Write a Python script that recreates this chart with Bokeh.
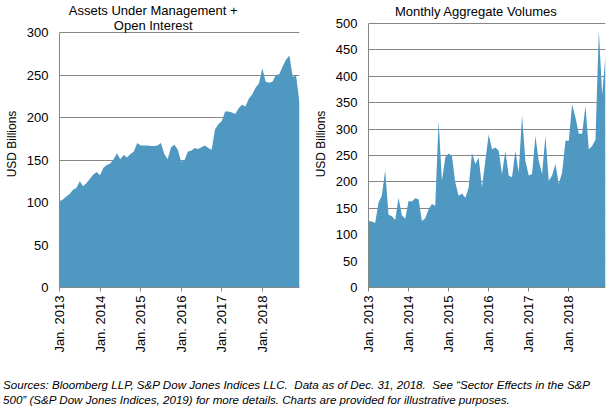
import math
from bokeh.plotting import figure
from bokeh.models import Range1d, FixedTicker, Label, Div
from bokeh.layouts import row, column
from bokeh.embed import file_html
from bokeh.resources import INLINE

# ---- data ----
months = list(range(72))  # Jan 2013 .. Dec 2018
tick_months = [0, 12, 24, 36, 48, 60]
tick_labels = ["Jan. 2013", "Jan. 2014", "Jan. 2015", "Jan. 2016", "Jan. 2017", "Jan. 2018"]

aum_oi = [101.5, 103.5, 107, 110, 115, 117, 125, 119, 123, 128, 133, 136,
          132, 141, 144, 146, 151, 158, 151, 156, 153, 157, 160, 170,
          167, 167, 167, 166.5, 166.5, 167, 170, 157, 151, 165, 168, 162,
          148, 150, 160, 161, 164, 163, 165, 167, 164, 162, 186, 192,
          196, 207, 207, 206, 204, 211, 215, 213, 222, 227, 235, 240,
          258, 242, 241, 242, 250, 251, 260, 268, 273, 248, 249, 217]

volumes = [126, 125, 122, 161, 174, 222, 138, 135, 128, 170, 137, 130,
           164, 163, 169, 167, 126, 131, 148, 158, 155, 316, 202, 246,
           254, 249, 199, 174, 178, 170, 189, 255, 234, 246, 190, 240,
           290, 262, 265, 259, 215, 259, 212, 209, 259, 218, 326, 240,
           212, 215, 287, 240, 215, 287, 202, 212, 234, 196, 218, 278,
           278, 347, 322, 291, 291, 344, 262, 268, 280, 487, 365, 440]

left_title = ["Assets Under Management +", "Open Interest"]
right_title = "Monthly Aggregate Volumes"
y_label = "USD Billions"
footer_lines = [
    "Sources: Bloomberg LLP, S&amp;P Dow Jones Indices LLC.&nbsp; Data as of Dec. 31, 2018.&nbsp; See \u201cSector Effects in the S&amp;P",
    "500\u201d (S&amp;P Dow Jones Indices, 2019) for more details. Charts are provided for illustrative purposes.",
]

FILL = "#4E98C1"
GRAY = "#868686"
FONT = "Liberation Sans"
FRAME_H = 287          # frame runs from the top of the canvas down to the x axis
BOTTOM_BORDER = 71


def make_fig(values, ymax, px_per_unit, ystep, width, border_left, border_right):
    yview = FRAME_H / px_per_unit
    p = figure(width=width, height=FRAME_H + BOTTOM_BORDER, output_backend="svg",
               toolbar_location=None,
               x_range=Range1d(0, 71), y_range=Range1d(0, yview),
               min_border_left=border_left, min_border_right=border_right,
               min_border_top=0, min_border_bottom=BOTTOM_BORDER)
    p.outline_line_color = None
    p.background_fill_color = "white"
    p.border_fill_color = "white"
    p.varea(x=months, y1=[0] * len(values), y2=values, fill_color=FILL, fill_alpha=1)
    p.xgrid.grid_line_color = None
    p.ygrid.grid_line_color = GRAY
    p.ygrid.grid_line_width = 1
    p.ygrid.ticker = FixedTicker(ticks=list(range(0, ymax + 1, ystep)))

    xa = p.xaxis[0]
    xa.ticker = FixedTicker(ticks=tick_months)
    xa.major_label_overrides = {m: l for m, l in zip(tick_months, tick_labels)}
    xa.major_label_orientation = math.pi / 2
    xa.axis_line_color = GRAY
    xa.major_tick_line_color = GRAY
    xa.major_tick_out = 4
    xa.major_tick_in = 0
    xa.minor_tick_line_color = None
    xa.major_label_standoff = 4
    xa.major_label_text_font = FONT
    xa.major_label_text_font_size = "13px"
    xa.major_label_text_color = "black"

    ya = p.yaxis[0]
    ya.ticker = FixedTicker(ticks=list(range(0, ymax + 1, ystep)))
    ya.bounds = (0, ymax)
    ya.axis_line_color = GRAY
    ya.major_tick_line_color = None
    ya.major_tick_out = 0
    ya.major_tick_in = 0
    ya.minor_tick_line_color = None
    ya.major_label_standoff = 11
    ya.major_label_text_font = FONT
    ya.major_label_text_font_size = "13px"
    ya.major_label_text_color = "black"
    ya.axis_label = y_label
    ya.axis_label_text_font = FONT
    ya.axis_label_text_font_size = "12px"
    ya.axis_label_text_font_style = "normal"
    ya.axis_label_text_color = "black"
    ya.axis_label_standoff = 5
    return p


p1 = make_fig(aum_oi, 300, 0.85, 50, 308, 59, 9)
p2 = make_fig(volumes, 500, 0.528, 50, 299, 60, 2)

# titles (frame-relative screen coordinates, y measured up from frame bottom)
p1.add_layout(Label(x=93.7, y=FRAME_H - 10.2, x_units="screen", y_units="screen",
                    text=left_title[0], text_align="center", text_baseline="alphabetic",
                    text_font=FONT, text_font_size="13px", text_color="black"))
p1.add_layout(Label(x=93.7, y=FRAME_H - 25.2, x_units="screen", y_units="screen",
                    text=left_title[1], text_align="center", text_baseline="alphabetic",
                    text_font=FONT, text_font_size="13px", text_color="black"))
p2.add_layout(Label(x=107.7, y=FRAME_H - 10.5, x_units="screen", y_units="screen",
                    text=right_title, text_align="center", text_baseline="alphabetic",
                    text_font=FONT, text_font_size="13px", text_color="black"))

footer = Div(text="<br>".join(footer_lines), width=615, margin=(19, 0, 0, 3),
             styles={"font-family": FONT, "font-size": "11.6px", "font-style": "italic",
                     "line-height": "15px", "color": "black", "white-space": "nowrap"})

layout = column(row(p1, p2), footer)
open("out.html", "w").write(file_html(layout, INLINE))
